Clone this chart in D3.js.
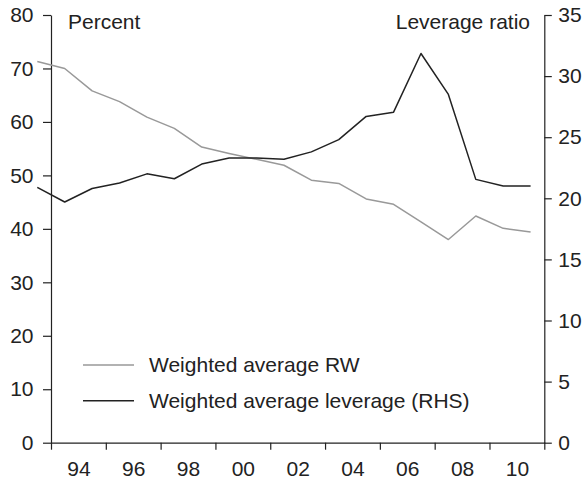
<!DOCTYPE html>
<html>
<head>
<meta charset="utf-8">
<script src="https://cdn.jsdelivr.net/npm/d3@7"></script>
<style>
  html, body { margin: 0; padding: 0; background: #fff; }
  svg { display: block; font-family: "Liberation Sans", Arial, sans-serif; }
</style>
</head>
<body>
<svg id="chart" width="585" height="480"></svg>
<script>
// ---- Data ----
const years = [1992, 1993, 1994, 1995, 1996, 1997, 1998, 1999, 2000, 2001,
               2002, 2003, 2004, 2005, 2006, 2007, 2008, 2009, 2010];
const rwValues = [71.3, 70.0, 65.8, 63.8, 60.9, 58.8, 55.3, 54.1, 53.0, 51.9,
                  49.1, 48.5, 45.6, 44.6, 41.3, 38.0, 42.4, 40.1, 39.4];
const leverageValues = [20.9, 19.7, 20.8, 21.25, 22.0, 21.6, 22.8, 23.3, 23.3, 23.2,
                        23.8, 24.8, 26.7, 27.05, 31.85, 28.5, 21.55, 21.0, 21.0];
const leftTicks = [0, 10, 20, 30, 40, 50, 60, 70, 80];
const rightTicks = [0, 5, 10, 15, 20, 25, 30, 35];
const xTickMarks = [1993, 1995, 1997, 1999, 2001, 2003, 2005, 2007, 2009, 2011];
const xLabelYears = [1994, 1996, 1998, 2000, 2002, 2004, 2006, 2008, 2010];
const seriesNames = ["Weighted average RW", "Weighted average leverage (RHS)"];
const leftTitle = "Percent";
const rightTitle = "Leverage ratio";

// ---- Layout ----
const svg = d3.select("#chart");
const mLeft = 51, mRight = 544.3, mTop = 15, mBottom = 442.7;
const textColor = "#222";
const fontSize = 21;

const x = d3.scaleLinear().domain([1993, 2011]).range([mLeft, mRight]);
const yL = d3.scaleLinear().domain([0, 80]).range([mBottom, mTop]);
const yR = d3.scaleLinear().domain([0, 35]).range([mBottom, mTop]);

function styleAxis(g) {
  g.selectAll("path.domain").attr("stroke", textColor).attr("stroke-width", 1.2);
  g.selectAll(".tick line").attr("stroke", textColor).attr("stroke-width", 1.2);
  g.selectAll(".tick text").attr("fill", textColor).style("font-size", fontSize + "px")
    .style("font-family", '"Liberation Sans", Arial, sans-serif');
}

// Left axis
svg.append("g").attr("transform", `translate(${mLeft},0)`)
  .call(d3.axisLeft(yL).tickValues(leftTicks).tickSize(8).tickSizeOuter(0).tickPadding(9.5))
  .call(styleAxis);

// Right axis
svg.append("g").attr("transform", `translate(${mRight},0)`)
  .call(d3.axisRight(yR).tickValues(rightTicks).tickSize(7.5).tickSizeOuter(0).tickPadding(6.5))
  .call(styleAxis);

// Bottom axis: tick marks
svg.append("g").attr("transform", `translate(0,${mBottom})`)
  .call(d3.axisBottom(x).tickValues(xTickMarks).tickSize(7).tickSizeOuter(0).tickFormat(""))
  .call(styleAxis);

// Bottom axis: labels centred between tick marks
const xl = svg.append("g").attr("transform", `translate(0,${mBottom})`)
  .call(d3.axisBottom(x).tickValues(xLabelYears).tickSize(0).tickPadding(18)
    .tickFormat(d => String(d % 100).padStart(2, "0")))
  .call(styleAxis);
xl.select("path.domain").remove();

// Lines (not clipped, as in the reference)
const line = (yScale) => d3.line().x((d, i) => x(years[i] + 0.5)).y(d => yScale(d));

svg.append("path").datum(rwValues)
  .attr("d", line(yL)).attr("fill", "none")
  .attr("stroke", "#999").attr("stroke-width", 1.5).attr("stroke-linejoin", "round");

svg.append("path").datum(leverageValues)
  .attr("d", line(yR)).attr("fill", "none")
  .attr("stroke", "#222").attr("stroke-width", 1.5).attr("stroke-linejoin", "round");

// Axis titles
svg.append("text").attr("x", 68).attr("y", 28.5).text(leftTitle)
  .attr("fill", textColor).style("font-size", fontSize + "px");
svg.append("text").attr("x", 530).attr("y", 28.5).attr("text-anchor", "end").text(rightTitle)
  .attr("fill", textColor).style("font-size", fontSize + "px");

// Legend
const legendColors = ["#999", "#222"];
const legendY = [365, 400.7];
seriesNames.forEach((name, i) => {
  svg.append("line").attr("x1", 83).attr("x2", 134)
    .attr("y1", legendY[i]).attr("y2", legendY[i])
    .attr("stroke", legendColors[i]).attr("stroke-width", 1.5);
  svg.append("text").attr("x", 149).attr("y", legendY[i] + 7.3).text(name)
    .attr("fill", textColor).style("font-size", fontSize + "px");
});
</script>
</body>
</html>
